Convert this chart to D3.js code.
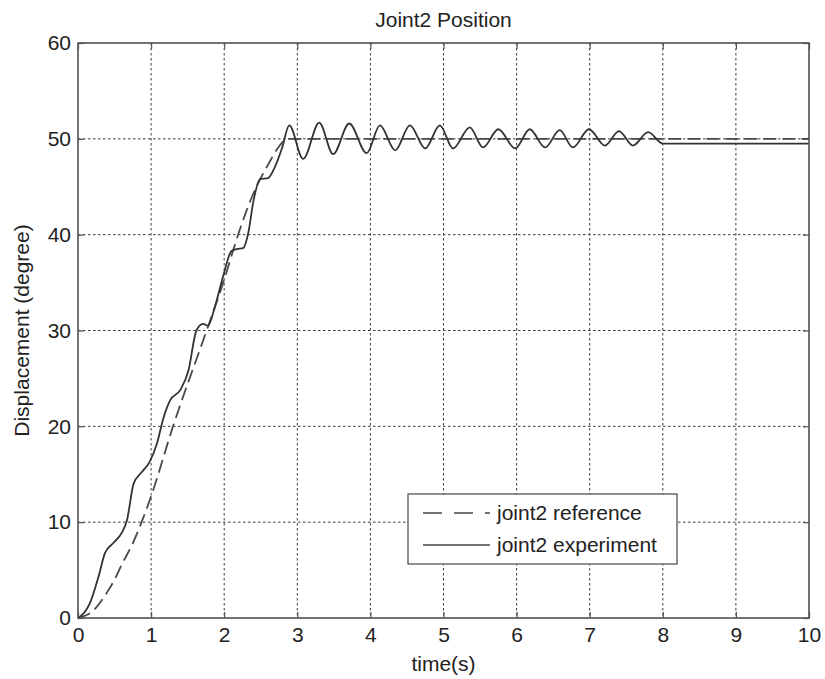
<!DOCTYPE html>
<html>
<head>
<meta charset="utf-8">
<script src="https://cdn.jsdelivr.net/npm/d3@7"></script>
<style>
  html, body { margin: 0; padding: 0; background: #fff; }
  svg text { font-family: "Liberation Sans", Arial, Helvetica, sans-serif; fill: #222; }
</style>
</head>
<body>
<svg id="chart" width="825" height="679"></svg>
<script>
// ---- data ----
const title = "Joint2 Position";
const xLabel = "time(s)";
const yLabel = "Displacement (degree)";
const xTicks = [0, 1, 2, 3, 4, 5, 6, 7, 8, 9, 10];
const yTicks = [0, 10, 20, 30, 40, 50, 60];
const seriesNames = ["joint2 reference", "joint2 experiment"];

const refTime = [0, 0.2, 0.4, 0.5, 0.6, 0.75, 0.87, 1.0, 1.3, 1.76, 2.0, 2.19, 2.4, 2.6, 2.75, 2.86, 3.0, 10];
const refValue = [0, 0.7, 2.7, 4.0, 5.6, 7.8, 10, 12.7, 20, 30, 35.3, 40, 44.3, 47.3, 49.2, 50, 50, 50];

const expTime = [0, 0.16, 0.28, 0.37, 0.48, 0.60, 0.67, 0.76, 0.87, 0.98, 1.08, 1.17, 1.26, 1.40, 1.51, 1.62, 1.71, 1.78, 1.87, 1.98, 2.10, 2.17, 2.26, 2.33, 2.40, 2.49, 2.60, 2.69, 2.79,
  2.89, 3.08, 3.30, 3.49, 3.71, 3.95, 4.13, 4.34, 4.54, 4.75, 4.95, 5.13, 5.36, 5.54, 5.75, 5.98, 6.18, 6.39, 6.59, 6.77, 6.99, 7.21, 7.40, 7.59, 7.80, 8.0, 10];
const expValue = [0, 1.5, 4.3, 6.8, 7.8, 8.9, 10.2, 14.0, 15.2, 16.3, 18.2, 20.9, 22.7, 23.8, 25.8, 30.0, 30.7, 30.5, 32.4, 35.5, 38.3, 38.5, 38.6, 40.2, 43.5, 45.8, 45.9, 47.0, 49.0,
  51.4, 47.9, 51.7, 48.4, 51.6, 48.5, 51.4, 48.8, 51.4, 49.0, 51.4, 49.0, 51.2, 49.1, 51.0, 49.0, 51.0, 49.1, 50.9, 49.1, 51.0, 49.3, 50.8, 49.3, 50.7, 49.5, 49.5];

// ---- layout ----
const W = 825, H = 679;
const m = { left: 78, top: 43, right: 16, bottom: 61 };
const pw = W - m.left - m.right, ph = H - m.top - m.bottom;
const FONT = 21;

const svg = d3.select("#chart");
const g = svg.append("g").attr("transform", `translate(${m.left},${m.top})`);

const x = d3.scaleLinear().domain([0, 10]).range([0, pw]);
const y = d3.scaleLinear().domain([0, 60]).range([ph, 0]);

// grid
g.append("g").selectAll("line").data(xTicks.slice(1, -1)).join("line")
  .attr("x1", d => x(d)).attr("x2", d => x(d)).attr("y1", 0).attr("y2", ph)
  .attr("stroke", "#3a3a3a").attr("stroke-width", 1).attr("stroke-dasharray", "2.5,2.5");
g.append("g").selectAll("line").data(yTicks.slice(1, -1)).join("line")
  .attr("y1", d => y(d)).attr("y2", d => y(d)).attr("x1", 0).attr("x2", pw)
  .attr("stroke", "#3a3a3a").attr("stroke-width", 1).attr("stroke-dasharray", "2.5,2.5");

// axes (inward ticks)
const tickLen = 6;
const xAxisB = d3.axisBottom(x).tickValues(xTicks).tickSize(-tickLen).tickPadding(9).tickFormat(d3.format("d"));
const yAxisL = d3.axisLeft(y).tickValues(yTicks).tickSize(-tickLen).tickPadding(7).tickFormat(d3.format("d"));
const xAxisT = d3.axisTop(x).tickValues(xTicks).tickSize(-tickLen).tickFormat("");
const yAxisR = d3.axisRight(y).tickValues(yTicks).tickSize(-tickLen).tickFormat("");

function styleAxis(sel) {
  sel.select(".domain").remove();
  sel.selectAll(".tick line").attr("stroke", "#555").attr("stroke-width", 1.2);
  sel.selectAll(".tick text").attr("font-size", FONT).attr("fill", "#222")
    .style("font-family", '"Liberation Sans", Arial, sans-serif');
}
g.append("g").attr("transform", `translate(0,${ph})`).call(xAxisB).call(styleAxis);
g.append("g").call(yAxisL).call(styleAxis);
g.append("g").call(xAxisT).call(styleAxis);
g.append("g").attr("transform", `translate(${pw},0)`).call(yAxisR).call(styleAxis);

// lines
const refData = refTime.map((t, i) => ({ t, v: refValue[i] }));
const expData = expTime.map((t, i) => ({ t, v: expValue[i] }));
const line = d3.line().x(d => x(d.t)).y(d => y(d.v)).curve(d3.curveMonotoneX);

g.append("path").datum(refData).attr("d", line)
  .attr("fill", "none").attr("stroke", "#4a4a4a").attr("stroke-width", 1.8)
  .attr("stroke-dasharray", "13,6");
g.append("path").datum(expData).attr("d", line)
  .attr("fill", "none").attr("stroke", "#333").attr("stroke-width", 1.8);

// frame
g.append("rect").attr("x", 0).attr("y", 0).attr("width", pw).attr("height", ph)
  .attr("fill", "none").attr("stroke", "#505050").attr("stroke-width", 1.6);

// legend
const lg = svg.append("g");
const lx0 = 408, ly0 = 494, lw = 269, lh = 70;
lg.append("rect").attr("x", lx0).attr("y", ly0).attr("width", lw).attr("height", lh)
  .attr("fill", "#fff").attr("stroke", "#555").attr("stroke-width", 1.3);
const rows = [
  { name: seriesNames[0], dash: "19,12", cy: 513 },
  { name: seriesNames[1], dash: null, cy: 545 }
];
rows.forEach(r => {
  lg.append("line").attr("x1", 423).attr("x2", 490).attr("y1", r.cy).attr("y2", r.cy)
    .attr("stroke", "#444").attr("stroke-width", 1.7)
    .attr("stroke-dasharray", r.dash);
  lg.append("text").attr("x", 497).attr("y", r.cy + 7).attr("font-size", FONT).text(r.name);
});

// titles
svg.append("text").attr("x", m.left + pw / 2).attr("y", 27).attr("text-anchor", "middle")
  .attr("font-size", FONT).text(title);
svg.append("text").attr("x", m.left + pw / 2).attr("y", 671).attr("text-anchor", "middle")
  .attr("font-size", FONT).text(xLabel);
svg.append("text").attr("transform", `translate(29,${m.top + ph / 2}) rotate(-90)`)
  .attr("text-anchor", "middle").attr("font-size", FONT).text(yLabel);
</script>
</body>
</html>
